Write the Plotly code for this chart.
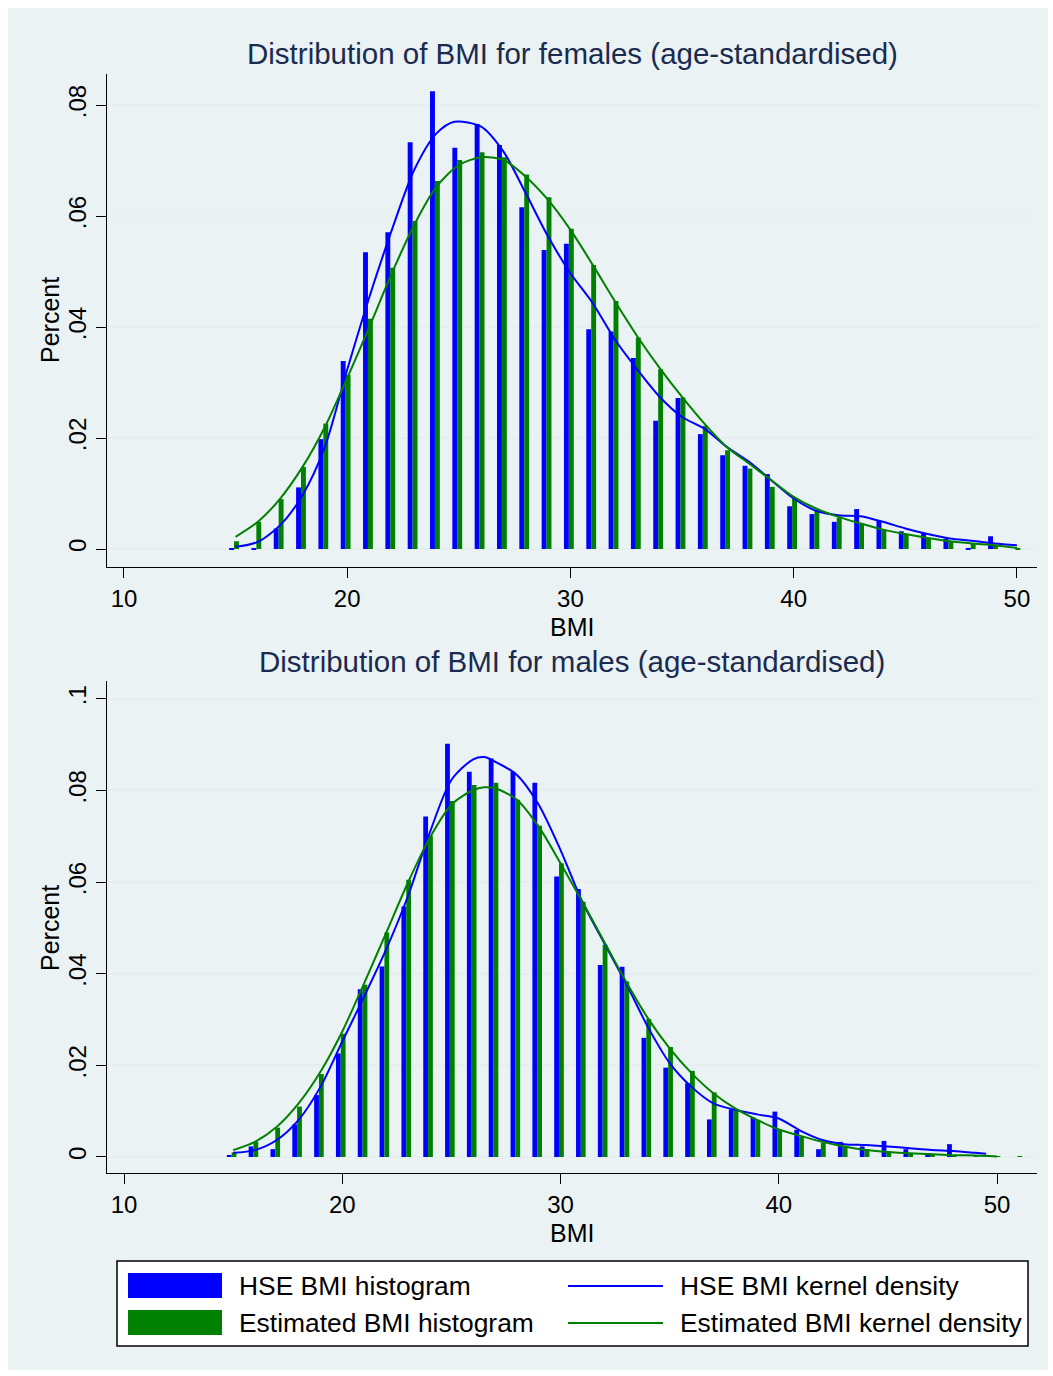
import plotly.graph_objects as go

W, H = 1053, 1376

# ---------------- data ----------------
bmi_f = list(range(15, 51))
hse_hist_f = [0.0001, 0.0001, 0.0037, 0.0111, 0.0198, 0.0339, 0.0535, 0.0571, 0.0733, 0.0825,
              0.0723, 0.0766, 0.0728, 0.0616, 0.0539, 0.0550, 0.0396, 0.0392, 0.0344, 0.0231,
              0.0272, 0.0207, 0.0169, 0.0150, 0.0135, 0.0077, 0.0063, 0.0049, 0.0072, 0.0052,
              0.0032, 0.0029, 0.0019, 0.0002, 0.0023, 0.0]
est_hist_f = [0.0014, 0.0049, 0.0090, 0.0148, 0.0226, 0.0314, 0.0415, 0.0507, 0.0591, 0.0663,
              0.0701, 0.0715, 0.0706, 0.0675, 0.0634, 0.0577, 0.0512, 0.0447, 0.0381, 0.0324,
              0.0273, 0.0222, 0.0178, 0.0145, 0.0112, 0.0091, 0.0070, 0.0056, 0.0045, 0.0034,
              0.0027, 0.0020, 0.0014, 0.0010, 0.0006, 0.0002]

kde_x_hse_f = [15, 16, 17, 18, 19, 20, 21, 22, 23, 24, 24.8, 26, 27, 28, 29, 30, 31, 32, 33, 34,
               35, 36, 37, 38, 39, 40, 41, 42, 43, 44, 45, 46, 47, 48, 49, 50]
kde_y_hse_f = [0.0004, 0.0013, 0.0043, 0.0097, 0.0184, 0.0323, 0.0455, 0.0575, 0.0683, 0.0749,
               0.0770, 0.0761, 0.0716, 0.0641, 0.0563, 0.0497, 0.0443, 0.0377, 0.0323, 0.0274,
               0.0238, 0.0217, 0.0184, 0.0157, 0.0124, 0.0091, 0.0069, 0.0061, 0.0059, 0.0049,
               0.0037, 0.0027, 0.0019, 0.0015, 0.0010, 0.0007]
kde_x_est_f = list(range(15, 51))
kde_y_est_f = [0.0022, 0.0049, 0.0091, 0.0148, 0.0220, 0.0308, 0.0401, 0.0497, 0.0584, 0.0653,
               0.0692, 0.0706, 0.0701, 0.0671, 0.0629, 0.0575, 0.0512, 0.0446, 0.0383, 0.0326,
               0.0274, 0.0226, 0.0184, 0.0154, 0.0124, 0.0094, 0.0073, 0.0058, 0.0046, 0.0035,
               0.0027, 0.0020, 0.0014, 0.0010, 0.0007, 0.0002]

bmi_m = list(range(15, 52))
hse_hist_m = [0.0004, 0.0023, 0.0017, 0.0071, 0.0135, 0.0226, 0.0366, 0.0416, 0.0547, 0.0743,
              0.0902, 0.0841, 0.0870, 0.0841, 0.0817, 0.0612, 0.0585, 0.0419, 0.0415, 0.0260,
              0.0195, 0.0161, 0.0082, 0.0104, 0.0086, 0.0099, 0.0059, 0.0017, 0.0033, 0.0023,
              0.0035, 0.0017, 0.0008, 0.0028, 0.0, 0.0, 0.0]
est_hist_m = [0.0010, 0.0033, 0.0064, 0.0110, 0.0181, 0.0269, 0.0376, 0.0490, 0.0605, 0.0701,
              0.0777, 0.0812, 0.0817, 0.0780, 0.0723, 0.0641, 0.0557, 0.0463, 0.0383, 0.0301,
              0.0240, 0.0188, 0.0141, 0.0104, 0.0081, 0.0060, 0.0044, 0.0031, 0.0023, 0.0017,
              0.0012, 0.0008, 0.0007, 0.0004, 0.0003, 0.0001, 0.0002]

kde_x_hse_m = [15, 16, 17, 18, 19, 20, 21, 22, 23, 24, 25, 26, 26.5, 27, 28, 29, 30, 31, 32, 33,
               34, 35, 36, 37, 38, 39, 40, 41, 42, 43, 44, 45, 46, 47, 48, 49, 49.5]
kde_y_hse_m = [0.0009, 0.0015, 0.0037, 0.0081, 0.0153, 0.0252, 0.0350, 0.0452, 0.0568, 0.0707,
               0.0823, 0.0868, 0.0873, 0.0863, 0.0834, 0.0769, 0.0670, 0.0557, 0.0467, 0.0379,
               0.0284, 0.0205, 0.0153, 0.0117, 0.0103, 0.0093, 0.0084, 0.0057, 0.0037, 0.0028,
               0.0026, 0.0023, 0.0019, 0.0015, 0.0013, 0.0009, 0.0007]
kde_x_est_m = [15, 16, 17, 18, 19, 20, 21, 22, 23, 24, 25, 26, 26.5, 27, 28, 29, 30, 31, 32, 33,
               34, 35, 36, 37, 38, 39, 40, 41, 42, 43, 44, 45, 46, 47, 48, 49, 50]
kde_y_est_m = [0.0015, 0.0033, 0.0066, 0.0117, 0.0186, 0.0274, 0.0379, 0.0488, 0.0598, 0.0696,
               0.0769, 0.0801, 0.0807, 0.0805, 0.0780, 0.0721, 0.0641, 0.0557, 0.0470, 0.0383,
               0.0303, 0.0237, 0.0183, 0.0139, 0.0106, 0.0081, 0.0060, 0.0046, 0.0033, 0.0023,
               0.0015, 0.0011, 0.0008, 0.0006, 0.0004, 0.0003, 0.0001]

x_ticks = [10, 20, 30, 40, 50]
y_ticks_f = [0, 0.02, 0.04, 0.06, 0.08]
y_labels_f = ["0", ".02", ".04", ".06", ".08"]
y_ticks_m = [0, 0.02, 0.04, 0.06, 0.08, 0.1]
y_labels_m = ["0", ".02", ".04", ".06", ".08", ".1"]

titles = ["Distribution of BMI for females (age-standardised)",
          "Distribution of BMI for males (age-standardised)"]
legend_labels = ["HSE BMI histogram", "Estimated BMI histogram",
                 "HSE BMI kernel density", "Estimated BMI kernel density"]
x_title = "BMI"
y_title = "Percent"

# ---------------- style ----------------
BLUE = "#0000FF"
GREEN = "#008000"
BG = "#EAF2F3"
GRID = "#E6EEF0"
TITLE_C = "#1B2B50"
FONT = "Liberation Sans, Arial, sans-serif"


def px(x):
    return x / W


def py(y):
    return 1 - y / H


fig = go.Figure()

panels = [
    ("x", "y", bmi_f, hse_hist_f, est_hist_f, kde_x_hse_f, kde_y_hse_f, kde_x_est_f, kde_y_est_f),
    ("x2", "y2", bmi_m, hse_hist_m, est_hist_m, kde_x_hse_m, kde_y_hse_m, kde_x_est_m, kde_y_est_m),
]
for xa, ya, b, hh, eh, kxh, kyh, kxe, kye in panels:
    fig.add_trace(go.Bar(x=b, y=hh, width=0.22, offset=-0.29, marker=dict(color=BLUE, line=dict(width=0)),
                         xaxis=xa, yaxis=ya, showlegend=False, name=legend_labels[0]))
    fig.add_trace(go.Bar(x=b, y=eh, width=0.22, offset=-0.07, marker=dict(color=GREEN, line=dict(width=0)),
                         xaxis=xa, yaxis=ya, showlegend=False, name=legend_labels[1]))
    fig.add_trace(go.Scatter(x=kxh, y=kyh, mode="lines", line=dict(color=BLUE, width=2, shape="spline", smoothing=0.8),
                             xaxis=xa, yaxis=ya, showlegend=False, name=legend_labels[2]))
    fig.add_trace(go.Scatter(x=kxe, y=kye, mode="lines", line=dict(color=GREEN, width=2, shape="spline", smoothing=0.8),
                             xaxis=xa, yaxis=ya, showlegend=False, name=legend_labels[3]))

axis_common = dict(showline=True, linecolor="black", linewidth=1, ticks="outside", ticklen=10,
                   tickcolor="black", tickwidth=1, tickfont=dict(size=24, color="black", family=FONT),
                   zeroline=False)

xdom = [px(107), px(1037)]
fig.update_layout(
    width=W, height=H,
    margin=dict(l=0, r=0, t=0, b=0),
    paper_bgcolor="white",
    plot_bgcolor="white",
    barmode="overlay",
    font=dict(family=FONT, color="black"),
    xaxis=dict(domain=xdom, range=[9.24, 50.9], anchor="y", tickvals=x_ticks, showgrid=False,
               **axis_common),
    yaxis=dict(domain=[py(567), py(74)], range=[-0.00324, 0.0856], anchor="x", tickvals=y_ticks_f,
               ticktext=y_labels_f, tickangle=-90, showgrid=True, gridcolor=GRID, gridwidth=2,
               **axis_common),
    xaxis2=dict(domain=xdom, range=[9.22, 51.83], anchor="y2", tickvals=x_ticks, showgrid=False,
                **axis_common),
    yaxis2=dict(domain=[py(1173), py(681)], range=[-0.0035, 0.1039], anchor="x2", tickvals=y_ticks_m,
                ticktext=y_labels_m, tickangle=-90, showgrid=True, gridcolor=GRID, gridwidth=2,
                **axis_common),
)

shapes = [
    dict(type="rect", xref="paper", yref="paper", x0=px(8), x1=px(1048), y0=py(1370), y1=py(8),
         fillcolor=BG, line=dict(width=0), layer="below"),
    # legend box
    dict(type="rect", xref="paper", yref="paper", x0=px(117), x1=px(1028), y0=py(1346), y1=py(1261),
         fillcolor="white", line=dict(color="black", width=1.5)),
    dict(type="rect", xref="paper", yref="paper", x0=px(128), x1=px(222), y0=py(1298), y1=py(1273),
         fillcolor=BLUE, line=dict(width=0)),
    dict(type="rect", xref="paper", yref="paper", x0=px(128), x1=px(222), y0=py(1335), y1=py(1310),
         fillcolor=GREEN, line=dict(width=0)),
    dict(type="line", xref="paper", yref="paper", x0=px(568), x1=px(663), y0=py(1286), y1=py(1286),
         line=dict(color=BLUE, width=2)),
    dict(type="line", xref="paper", yref="paper", x0=px(568), x1=px(663), y0=py(1323), y1=py(1323),
         line=dict(color=GREEN, width=2)),
]

annotations = [
    dict(text=titles[0], x=px(572), y=py(53), xref="paper", yref="paper", showarrow=False,
         xanchor="center", yanchor="middle", font=dict(size=29.5, color=TITLE_C)),
    dict(text=titles[1], x=px(572), y=py(661), xref="paper", yref="paper", showarrow=False,
         xanchor="center", yanchor="middle", font=dict(size=29.5, color=TITLE_C)),
    dict(text=y_title, x=px(50), y=py(320), xref="paper", yref="paper", showarrow=False,
         textangle=-90, xanchor="center", yanchor="middle", font=dict(size=25, color="black")),
    dict(text=y_title, x=px(50), y=py(928), xref="paper", yref="paper", showarrow=False,
         textangle=-90, xanchor="center", yanchor="middle", font=dict(size=25, color="black")),
    dict(text=x_title, x=px(572), y=py(627), xref="paper", yref="paper", showarrow=False,
         xanchor="center", yanchor="middle", font=dict(size=25, color="black")),
    dict(text=x_title, x=px(572), y=py(1233), xref="paper", yref="paper", showarrow=False,
         xanchor="center", yanchor="middle", font=dict(size=25, color="black")),
]
for i, (lx, ly) in enumerate([(237, 1286), (237, 1323), (678, 1286), (678, 1323)]):
    annotations.append(dict(text=legend_labels[i], x=px(lx), y=py(ly), xref="paper", yref="paper",
                            showarrow=False, xanchor="left", yanchor="middle",
                            font=dict(size=26.4, color="black")))

fig.update_layout(shapes=shapes, annotations=annotations)
fig.write_html("out.html")
